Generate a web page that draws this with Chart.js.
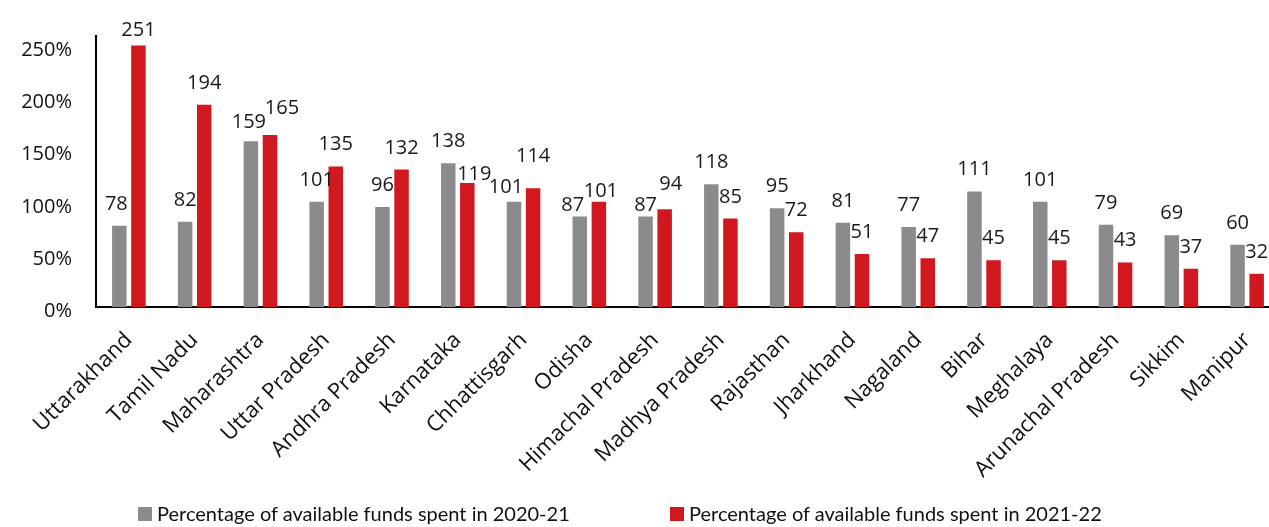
<!DOCTYPE html>
<html>
<head>
<meta charset="utf-8">
<script src="https://cdn.jsdelivr.net/npm/chart.js@4/dist/chart.umd.min.js"></script>
<style>
  html, body { margin: 0; padding: 0; background: #fff; }
  #wrap { position: relative; width: 1269px; height: 527px; overflow: hidden; }
  #chartBox { position: absolute; left: 0; top: 0; width: 1290px; height: 527px; }
  .lg { position: absolute; top: 499px; font: 20px Lato, sans-serif; color: #111; white-space: nowrap; line-height: 28px; }
  .lg i { position: absolute; left: -19px; top: 8px; width: 14px; height: 14px; }
</style>
</head>
<body>
<div id="wrap">
  <div id="chartBox"><canvas id="stateChart"></canvas></div>
  <div class="lg" id="lg0" style="left:157px"><i style="background:#8b8b8d"></i><span></span></div>
  <div class="lg" id="lg1" style="left:689px"><i style="background:#d1181f"></i><span></span></div>
</div>
<script>
// data
var states = ['Uttarakhand', 'Tamil Nadu', 'Maharashtra', 'Uttar Pradesh', 'Andhra Pradesh', 'Karnataka',
    'Chhattisgarh', 'Odisha', 'Himachal Pradesh', 'Madhya Pradesh', 'Rajasthan', 'Jharkhand',
    'Nagaland', 'Bihar', 'Meghalaya', 'Arunachal Pradesh', 'Sikkim', 'Manipur'];
var spent2021 = [78, 82, 159, 101, 96, 138, 101, 87, 87, 118, 95, 81, 77, 111, 101, 79, 69, 60];
var spent2122 = [251, 194, 165, 135, 132, 119, 114, 101, 94, 85, 72, 51, 47, 45, 45, 43, 37, 32];
var yTicks = [0, 50, 100, 150, 200, 250];
var seriesNames = ['Percentage of available funds spent in 2020-21', 'Percentage of available funds spent in 2021-22'];

document.querySelector('#lg0 span').textContent = seriesNames[0];
document.querySelector('#lg1 span').textContent = seriesNames[1];

// draw the numbers above the bars (a few are nudged like in the original)
var valueLabels = {
    id: 'valueLabels',
    afterDatasetsDraw: function(chart, args, opts) {
        var ctx = chart.ctx;
        ctx.save();
        ctx.font = '20px "Open Sans", sans-serif';
        ctx.fillStyle = '#1a1a1a';
        ctx.textAlign = 'center';
        ctx.textBaseline = 'alphabetic';
        chart.data.datasets.forEach(function(ds, i) {
            chart.getDatasetMeta(i).data.forEach(function(bar, j) {
                var n = opts.nudge[i + ':' + j] || [0, opts.gap];
                ctx.fillText(ds.data[j], bar.x + n[0], bar.y - n[1]);
            });
        });
        ctx.restore();
    }
};

var ctx = document.getElementById('stateChart').getContext('2d');
var stateChart = new Chart(ctx, {
    type: 'bar',
    data: {
        labels: states,
        datasets: [{
            label: seriesNames[0],
            backgroundColor: '#8b8b8d',
            data: spent2021
        }, {
            label: seriesNames[1],
            backgroundColor: '#d1181f',
            data: spent2122
        }]
    },
    options: {
        responsive: true,
        maintainAspectRatio: false,
        animation: false,
        categoryPercentage: 0.58,
        barPercentage: 0.76,
        layout: { padding: { top: 22, right: 10, bottom: 32, left: 0 } },
        scales: {
            x: {
                grid: { display: false },
                border: { color: '#000', width: 2 },
                ticks: {
                    minRotation: 45,
                    maxRotation: 45,
                    color: '#111',
                    padding: 12,
                    font: { family: '"Open Sans", sans-serif', size: 22 }
                }
            },
            y: {
                min: 0,
                max: 260,
                grid: { display: false, drawTicks: false },
                border: { color: '#000', width: 2 },
                afterFit: function(scale) { scale.width = 96; },
                afterBuildTicks: function(scale) {
                    scale.ticks = yTicks.map(function(v) { return { value: v }; });
                },
                ticks: {
                    padding: 24,
                    labelOffset: 4,
                    color: '#111',
                    font: { family: '"Open Sans", sans-serif', size: 20 },
                    callback: function(value) { return value + '%'; }
                }
            }
        },
        plugins: {
            legend: { display: false },
            tooltip: { enabled: false },
            valueLabels: {
                gap: 16,
                nudge: {
                    '0:0': [-3, 16], '0:2': [-2, 13], '0:6': [-8, 9], '0:7': [-7, 5], '0:8': [0, 5],
                    '1:0': [0, 9], '1:2': [12, 21], '1:5': [7, 3], '1:6': [0, 26], '1:7': [2, 5], '1:8': [6, 19]
                }
            }
        }
    },
    plugins: [valueLabels]
});
</script>
</body>
</html>
